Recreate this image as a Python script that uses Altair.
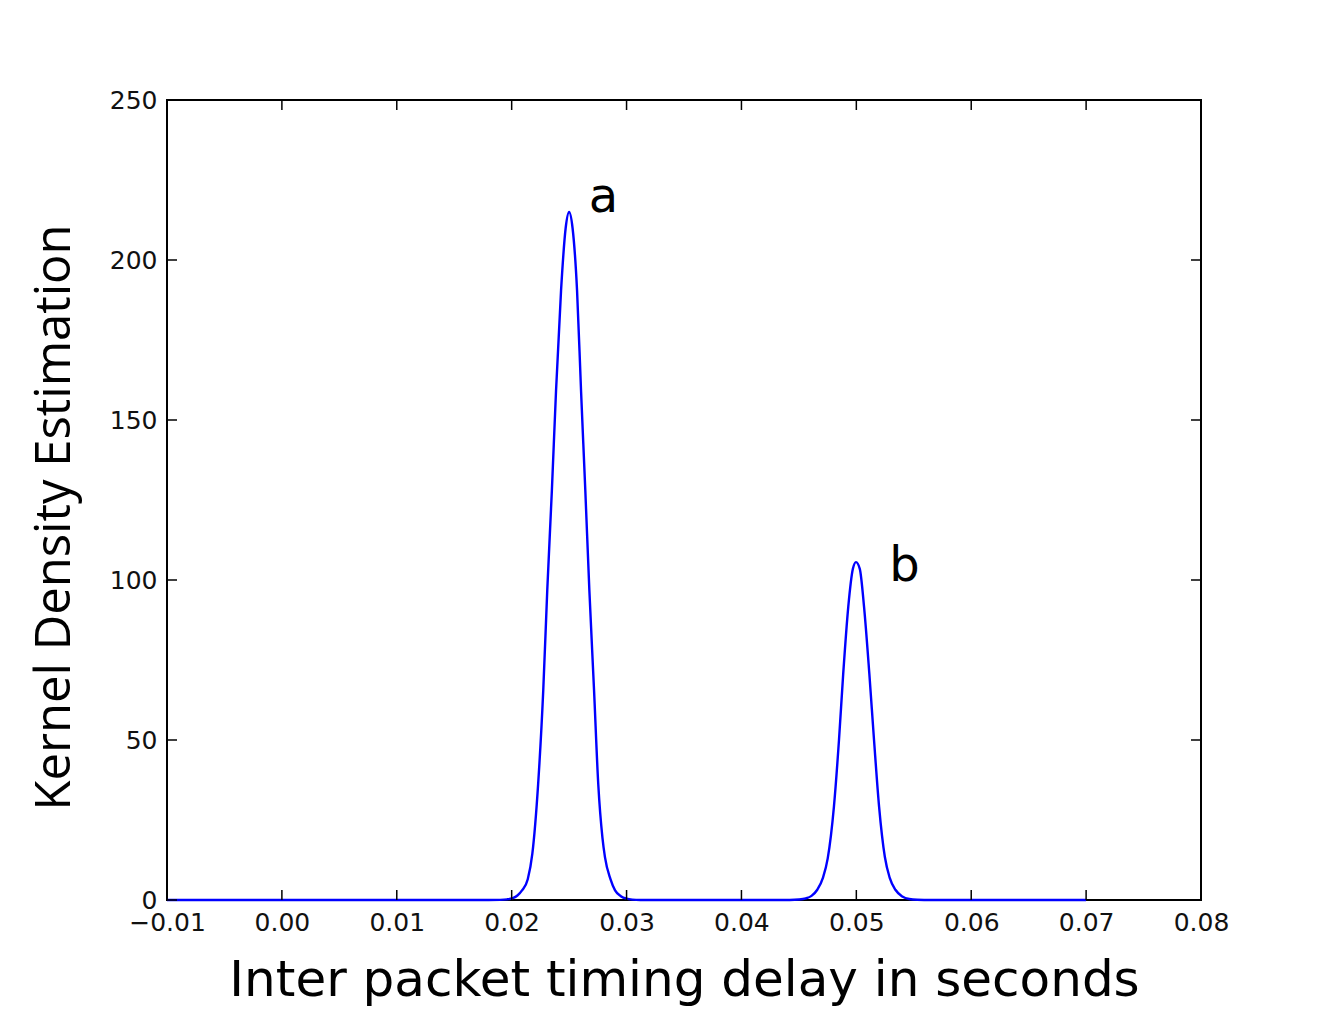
import altair as alt
import pandas as pd

# Curve points (x in seconds, y = density)
xs = [-0.010, 0.000, 0.010, 0.0180, 0.0190, 0.0196, 0.0201, 0.0205, 0.0209, 0.0214,
      0.0218, 0.0223, 0.02275, 0.0231, 0.0235, 0.02386, 0.0243, 0.0247, 0.0250, 0.0253,
      0.02569, 0.02604, 0.02641, 0.02676, 0.02717, 0.02754, 0.0279, 0.02812, 0.0286,
      0.0290, 0.0295, 0.0300, 0.0305, 0.0312, 0.0325, 0.035, 0.040, 0.0430,
      0.0442, 0.0450, 0.0456, 0.0461, 0.0466, 0.0471, 0.04751, 0.04805, 0.04849,
      0.04886, 0.0493, 0.0497, 0.04997, 0.0503, 0.05067, 0.05113, 0.05154, 0.05198,
      0.05248, 0.0529, 0.0534, 0.0540, 0.0546, 0.0553, 0.0565, 0.060, 0.070]
ys = [0.0, 0.0, 0.0, 0.0, 0.05, 0.2, 0.6, 1.4, 3.0, 6.5,
      14.5, 36.0, 65.6, 97.0, 128.0, 159.0, 190.6, 210.0, 215.0, 210.0,
      190.6, 159.0, 128.0, 97.0, 65.6, 36.0, 19.5, 13.4, 6.5,
      3.0, 1.2, 0.4, 0.12, 0.02, 0.0, 0.0, 0.0, 0.0,
      0.02, 0.15, 0.5, 1.3, 3.2, 7.0, 13.0, 29.2, 50.0,
      70.8, 91.7, 103.5, 105.6, 103.5, 91.7, 70.8, 50.0, 29.2,
      13.5, 7.0, 3.2, 1.1, 0.3, 0.06, 0.0, 0.0, 0.0]

label_text = ["a", "b"]
label_x = [0.0280, 0.0542]
label_y = [219.5, 104.0]

x_ticks = [-0.01, 0.0, 0.01, 0.02, 0.03, 0.04, 0.05, 0.06, 0.07, 0.08]
y_ticks = [0, 50, 100, 150, 200, 250]

W, H = 1034, 800
TL = 10

curve = pd.DataFrame({"x": xs, "y": ys})
labels = pd.DataFrame({"t": label_text, "x": label_x, "y": label_y})
xt = pd.DataFrame({"v": x_ticks})
yt = pd.DataFrame({"v": y_ticks})

xscale = alt.Scale(domain=[-0.01, 0.08], nice=False, zero=False)
yscale = alt.Scale(domain=[0, 250], nice=False)

xaxis = alt.Axis(values=x_ticks, format=".2f", tickSize=0, ticks=False, domain=False, grid=False,
                 labelFont="DejaVu Sans", labelFontSize=25, labelColor="#111",
                 labelPadding=10, title="Inter packet timing delay in seconds",
                 titleFont="DejaVu Sans", titleFontSize=50, titleFontWeight="normal",
                 titleColor="#000", titlePadding=20, labelFlush=False)
yaxis = alt.Axis(values=y_ticks, format="d", tickSize=0, ticks=False, domain=False, grid=False,
                 labelFont="DejaVu Sans", labelFontSize=25, labelColor="#111",
                 labelPadding=10, title="Kernel Density Estimation",
                 titleFont="Open Sans", titleFontSize=49, titleFontWeight="normal",
                 titleColor="#000", titlePadding=30, titleY=417)

line = alt.Chart(curve).mark_line(color="#0000ff", strokeWidth=2.4,
                                  interpolate="monotone").encode(
    x=alt.X("x:Q", scale=xscale, axis=xaxis),
    y=alt.Y("y:Q", scale=yscale, axis=yaxis),
)

bottom = alt.Chart(xt).mark_rule(color="#000", strokeWidth=1.5).encode(
    x=alt.X("v:Q", scale=xscale), y=alt.value(H), y2=alt.value(H - TL))
top = alt.Chart(xt).mark_rule(color="#000", strokeWidth=1.5).encode(
    x=alt.X("v:Q", scale=xscale), y=alt.value(0), y2=alt.value(TL))
left = alt.Chart(yt).mark_rule(color="#000", strokeWidth=1.5).encode(
    y=alt.Y("v:Q", scale=yscale), x=alt.value(0), x2=alt.value(TL))
right = alt.Chart(yt).mark_rule(color="#000", strokeWidth=1.5).encode(
    y=alt.Y("v:Q", scale=yscale), x=alt.value(W), x2=alt.value(W - TL))

text = alt.Chart(labels).mark_text(font="DejaVu Sans", fontSize=48, color="#000",
                                   align="center", baseline="middle").encode(
    x=alt.X("x:Q", scale=xscale), y=alt.Y("y:Q", scale=yscale), text="t:N")

chart = alt.layer(line, bottom, top, left, right, text).properties(
    width=W, height=H,
    autosize=alt.AutoSizeParams(type="none"),
    padding={"left": 167, "top": 100, "right": 133, "bottom": 110},
).configure(background="white").configure_view(stroke="#000", strokeWidth=2)

chart.save("out.html", embed_options={"renderer": "svg", "actions": False})
